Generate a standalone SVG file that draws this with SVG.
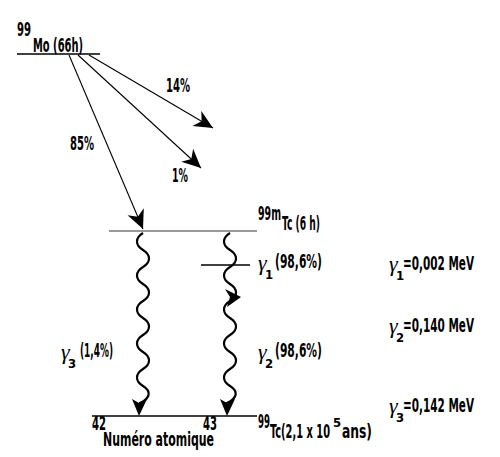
<svg xmlns="http://www.w3.org/2000/svg" width="500" height="457" viewBox="0 0 500 457">
<defs>
<style>
.t{font-family:"DejaVu Sans Condensed","Liberation Sans",sans-serif;font-size:19px;font-weight:bold;fill:#000}
.s{font-size:13px}
.g{font-family:"Liberation Serif",serif;font-style:italic;font-weight:normal;font-size:22px}
.lv{stroke:#000;stroke-width:1.3;fill:none}
.ln{stroke:#000;stroke-width:1.1;fill:none}
.wv{stroke:#000;stroke-width:2.2;fill:none}
.ah{fill:#000;stroke:none}
</style>
<marker id="arr" markerUnits="userSpaceOnUse" markerWidth="22" markerHeight="22" viewBox="-18 -10 20 20" refX="0" refY="0" orient="auto">
<path d="M0,0 L-17,-8 L-12,0 L-17,8 Z" fill="#000"/>
</marker>
</defs>
<rect width="500" height="457" fill="#fff"/>

<g id="connectors">
<line class="ln" x1="89" y1="55" x2="213" y2="128" marker-end="url(#arr)"/>
<line class="ln" x1="78" y1="55" x2="201" y2="168" marker-end="url(#arr)"/>
<line class="ln" x1="69" y1="55" x2="143" y2="229" marker-end="url(#arr)"/>
<path class="wv" d="M143,233 c-8,5 -8,12 0,17 c8,5 8,12 0,17 c-8,5 -8,12 0,17 c8,5 8,12 0,17 c-8,5 -8,12 0,17 c8,5 8,12 0,17 c-8,5 -8,12 0,17 c8,5 8,12 0,17 c-8,5 -8,12 0,17 c8,5 8,12 -3,17 L140,408"/>
<path class="ah" d="M139,416 L132,399 L139,403 L147,399 Z"/>
<path class="wv" d="M230,233 c-8,5 -8,12 0,17 c8,5 8,12 0,17 c-8,5 -8,12 0,17 c8,5 8,12 0,17 c-8,5 -8,12 0,17 c8,5 8,12 0,17 c-8,5 -8,12 0,17 c8,5 8,12 0,17 c-8,5 -8,12 0,17 c8,5 8,12 -3,17 L227,408"/>
<path class="ah" d="M227,416 L220,399 L227,403 L235,399 Z"/>
<path class="ah" d="M241,297 L225,289 L230,297 L227,307 Z"/>
</g>

<g id="mo99">
<line class="lv" x1="17" y1="54" x2="100" y2="54"/>
<text class="t" x="17" y="36" textLength="14" lengthAdjust="spacingAndGlyphs">99</text>
<text class="t" x="33" y="52" textLength="50" lengthAdjust="spacingAndGlyphs">Mo (66h)</text>
</g>

<g id="labels-branches">
<text class="t" x="166" y="92" textLength="24" lengthAdjust="spacingAndGlyphs">14%</text>
<text class="t" x="70" y="150" textLength="24" lengthAdjust="spacingAndGlyphs">85%</text>
<text class="t" x="172" y="182" textLength="16" lengthAdjust="spacingAndGlyphs">1%</text>
</g>

<g id="tc99m">
<line x1="109" y1="231" x2="257" y2="231" stroke="#777" stroke-width="1.3"/>
<text class="t"><tspan x="258" y="220" textLength="23" lengthAdjust="spacingAndGlyphs">99m</tspan><tspan x="282" y="230" textLength="38" lengthAdjust="spacingAndGlyphs">Tc (6 h)</tspan></text>
</g>

<g id="gamma1-level">
<line class="lv" x1="201" y1="265" x2="250" y2="265"/>
<text class="t"><tspan class="g" x="258" y="270">γ</tspan><tspan class="s" x="265" y="279">1</tspan><tspan x="275" y="268" textLength="47" lengthAdjust="spacingAndGlyphs">(98,6%)</tspan></text>
</g>

<g id="gamma2-label">
<text class="t"><tspan class="g" x="258" y="359">γ</tspan><tspan class="s" x="265" y="368">2</tspan><tspan x="275" y="357" textLength="47" lengthAdjust="spacingAndGlyphs">(98,6%)</tspan></text>
</g>

<g id="gamma3-label">
<text class="t"><tspan class="g" x="61" y="359">γ</tspan><tspan class="s" x="68" y="368">3</tspan><tspan x="80" y="357" textLength="33" lengthAdjust="spacingAndGlyphs">(1,4%)</tspan></text>
</g>

<g id="energies">
<text class="t"><tspan class="g" x="389" y="271">γ</tspan><tspan class="s" x="396" y="280">1</tspan><tspan x="403" y="270" textLength="71" lengthAdjust="spacingAndGlyphs">=0,002 MeV</tspan></text>
<text class="t"><tspan class="g" x="389" y="333">γ</tspan><tspan class="s" x="396" y="342">2</tspan><tspan x="403" y="332" textLength="71" lengthAdjust="spacingAndGlyphs">=0,140 MeV</tspan></text>
<text class="t"><tspan class="g" x="389" y="413">γ</tspan><tspan class="s" x="396" y="422">3</tspan><tspan x="403" y="412" textLength="71" lengthAdjust="spacingAndGlyphs">=0,142 MeV</tspan></text>
</g>

<g id="tc99">
<line class="lv" x1="92" y1="416" x2="257" y2="416"/>
<text class="t" x="92" y="430" textLength="14" lengthAdjust="spacingAndGlyphs">42</text>
<text class="t" x="203" y="430" textLength="14" lengthAdjust="spacingAndGlyphs">43</text>
<text class="t"><tspan x="258" y="428" textLength="12" lengthAdjust="spacingAndGlyphs">99</tspan><tspan x="270" y="438" textLength="60" lengthAdjust="spacingAndGlyphs">Tc(2,1 x 10</tspan><tspan class="s" x="333" y="427">5</tspan><tspan x="342" y="438" textLength="30" lengthAdjust="spacingAndGlyphs">ans)</tspan></text>
<text class="t" x="103" y="446" font-size="14" textLength="111" lengthAdjust="spacingAndGlyphs">Numéro atomique</text>
</g>
</svg>
